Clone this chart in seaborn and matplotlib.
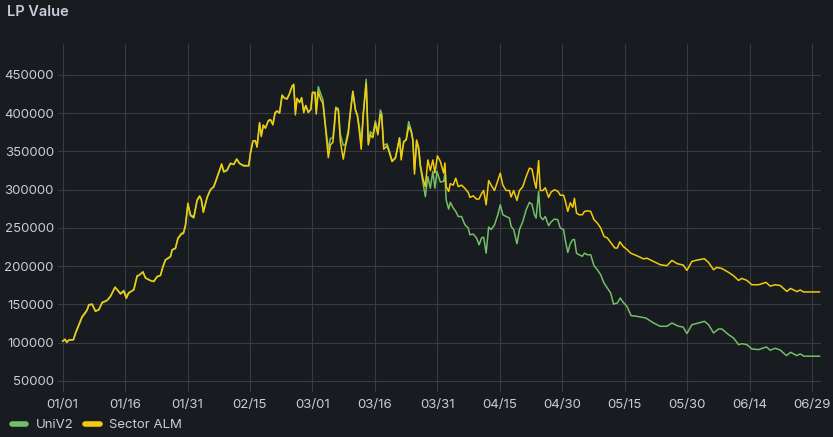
import numpy as np
import pandas as pd
import seaborn as sns
import matplotlib.pyplot as plt
import matplotlib.dates as mdates
from matplotlib.lines import Line2D

# days since 2024-01-01 and LP value
alm_days = [0, 0.6, 1.0, 1.5, 2.6, 3.1, 3.9, 4.7, 5.5, 5.9, 6.3, 7.1, 7.9, 8.7, 9.5, 10.7, 11.5, 12.6, 13.0, 13.9,
            14.7, 15.3, 15.9, 17.1, 17.9, 18.3, 19.3, 19.9, 21.0, 21.9, 22.7, 23.5, 24.1, 24.7, 25.9, 26.3, 27.1, 27.7,
            28.6, 29.0, 29.5, 30.1, 30.7, 31.5, 32.3, 32.9, 33.3, 33.8, 34.7, 35.5, 36.3, 37.1, 38.2, 38.7, 39.5, 40.3,
            41.1, 41.8, 42.5, 43.5, 44.7, 45.1, 45.7, 46.3, 46.7, 47.3, 47.7, 48.2, 48.7, 49.4, 49.9, 50.5, 51.0, 51.5,
            52.1, 52.7, 53.3, 53.9, 54.5, 55.1, 55.5, 55.9, 56.3, 56.9, 57.4, 57.9, 58.4, 59.0, 59.6, 60.0, 60.6, 60.9,
            61.4, 62.0, 62.5, 63.1, 63.8, 64.3, 64.9, 65.3, 65.6, 66.2, 66.7, 67.4, 67.9, 68.6, 69.1, 69.7, 70.3, 70.8,
            71.3, 71.7, 72.2, 72.9, 73.4, 73.9, 74.5, 75.1, 75.7, 76.3, 76.6, 77.1, 77.9, 78.5, 79.1, 79.9, 80.3, 80.9,
            81.3, 81.9, 82.5, 83.1, 83.7, 84.1, 84.5, 85.0, 85.5, 85.9, 86.5, 87.1, 87.7, 88.3, 88.9, 89.4, 90.0, 90.7,
            91.5, 91.8, 92.1, 92.7, 93.1, 93.8, 94.4, 95.0, 95.8, 96.6, 97.4, 97.8, 98.6, 99.4, 100.0, 100.6, 101.1,
            101.7, 102.3, 102.9, 103.7, 104.5, 105.1, 105.7, 106.5, 107.3, 107.7, 108.3, 109.1, 109.7, 110.5, 111.3,
            112.1, 112.7, 113.3, 113.7, 114.3, 114.7, 115.3, 115.9, 116.7, 117.3, 118.1, 118.9, 119.5, 120.3, 120.7,
            121.3, 121.9, 122.5, 122.9, 123.4, 124.0, 124.8, 125.3, 126.0, 126.8, 127.6, 128.4, 129.2, 130.0, 130.8,
            131.6, 132.6, 133.2, 133.8, 134.6, 135.6, 136.4, 137.9, 139.5, 140.3, 141.9, 143.5, 145.1, 146.3, 147.6,
            149.0, 149.9, 151.1, 152.3, 154.1, 155.1, 156.3, 157.1, 158.3, 159.9, 161.1, 162.3, 163.1, 164.3, 165.5,
            167.1, 168.9, 169.9, 171.1, 172.3, 173.9, 174.8, 176.3, 177.1, 177.9, 181.8]
alm_values = [102000, 104500, 100500, 103500, 104000, 112800, 123600, 134500, 140000, 143300, 149800, 150500, 141000,
              143000, 152800, 155500, 160600, 172800, 170000, 163700, 167000, 158000, 165000, 169300, 187600, 188000,
              192800, 184600, 181500, 180000, 186700, 188000, 199700, 208500, 212800, 221500, 223800, 236800, 243300,
              243000, 254200, 282500, 267300, 264200, 286800, 292000, 288000, 270300, 290300, 300000, 304200, 316500,
              333800, 323800, 326000, 334700, 333000, 340300, 334500, 331600, 331600, 347800, 363800, 364200, 355600,
              387800, 369500, 384700, 380300, 390400, 391700, 384700, 400800, 403000, 400000, 423900, 419600, 418500,
              426100, 435600, 437900, 397800, 419600, 414000, 420400, 400800, 410000, 400800, 405000, 427400, 427400,
              399000, 428000, 418000, 413000, 382500, 342000, 358600, 362000, 384700, 406500, 404000, 363000, 340000,
              356400, 373000, 400000, 428200, 404300, 396000, 374000, 353000, 398000, 439200, 358600, 371700, 368000,
              387000, 371700, 398000, 398000, 353000, 357300, 347800, 336800, 341000, 351000, 367400, 339000, 363000,
              365000, 382500, 376000, 365000, 320400, 365000, 355000, 332500, 315000, 304000, 339000, 325000, 339000,
              322000, 344300, 337000, 321700, 335000, 304200, 297700, 308000, 306000, 315100, 304000, 306000, 301700,
              296400, 290000, 292000, 287600, 288000, 295000, 299000, 280300, 312000, 306000, 299000, 312000, 321700,
              306000, 299000, 299000, 290500, 299000, 286000, 299000, 304000, 317200, 328200, 327000, 310700, 302000,
              338100, 299000, 299000, 302600, 290000, 297000, 300000, 298000, 292800, 292800, 285400, 271600, 283000,
              277000, 288700, 269500, 267300, 267300, 271600, 272500, 271600, 260800, 256500, 250000, 239000, 237000,
              231100, 223800, 223800, 232000, 225900, 221500, 217100, 213700, 209600, 210500, 206300, 202000, 200700,
              207600, 203300, 201600, 194600, 206300, 208000, 209800, 204900, 195400, 198500, 197000, 192000, 187600,
              181500, 184100, 181500, 175800, 175800, 178900, 174000, 175800, 174800, 167100, 171000, 166800, 169000,
              166400, 166400]

univ2_days = [0, 0.6, 1.0, 1.5, 2.6, 3.1, 3.9, 4.7, 5.5, 5.9, 6.3, 7.1, 7.9, 8.7, 9.5, 10.7, 11.5, 12.6, 13.0, 13.9,
              14.7, 15.3, 15.9, 17.1, 17.9, 18.3, 19.3, 19.9, 21.0, 21.9, 22.7, 23.5, 24.1, 24.7, 25.9, 26.3, 27.1, 27.7,
              28.6, 29.0, 29.5, 30.1, 30.7, 31.5, 32.3, 32.9, 33.3, 33.8, 34.7, 35.5, 36.3, 37.1, 38.2, 38.7, 39.5, 40.3,
              41.1, 41.8, 42.5, 43.5, 44.7, 45.1, 45.7, 46.3, 46.7, 47.3, 47.7, 48.2, 48.7, 49.4, 49.9, 50.5, 51.0, 51.5,
              52.1, 52.7, 53.3, 53.9, 54.5, 55.1, 55.5, 55.9, 56.3, 56.9, 57.4, 57.9, 58.4, 59.0, 59.6, 60.0, 60.6, 60.9,
              61.4, 62.0, 62.5, 63.1, 63.8, 64.3, 64.9, 65.3, 65.6, 66.2, 66.7, 67.4, 67.9, 68.6, 69.1, 69.7, 70.3, 70.8,
              71.3, 71.7, 72.2, 72.9, 73.4, 73.9, 74.5, 75.1, 75.7, 76.3, 76.6, 77.1, 77.9, 78.5, 79.1, 79.9, 80.3, 80.9,
              81.3, 81.9, 82.5, 83.1, 83.7, 84.1, 84.5, 85.0, 85.5, 85.9, 86.5, 87.1, 87.7, 88.3, 88.9, 89.4, 89.9, 90.7,
              91.5, 91.8, 92.1, 92.7, 93.1, 93.8, 94.4, 95.0, 95.8, 96.6, 97.4, 97.8, 98.6, 99.4, 100.0, 100.6, 101.1,
              101.7, 102.3, 102.9, 103.7, 104.5, 105.1, 105.7, 106.5, 107.3, 107.7, 108.3, 109.1, 109.7, 110.5, 111.3,
              112.1, 112.7, 113.3, 113.7, 114.3, 114.7, 115.3, 115.9, 116.7, 117.3, 118.1, 118.9, 119.5, 120.3, 120.7,
              121.3, 121.9, 122.5, 122.9, 123.4, 124.0, 124.8, 125.3, 126.0, 126.8, 127.6, 128.4, 129.2, 130.0, 130.8,
              131.6, 132.3, 133.2, 133.9, 134.6, 135.5, 136.5, 137.9, 140.0, 141.9, 143.5, 145.1, 146.3, 147.9, 149.0,
              149.9, 151.1, 152.7, 154.1, 155.1, 156.3, 157.5, 158.3, 159.9, 161.1, 162.3, 163.1, 164.3, 165.5, 167.1,
              169.0, 169.9, 171.1, 172.3, 173.8, 174.8, 176.3, 177.1, 178.0, 181.8]
univ2_values = [102000, 104500, 100500, 103500, 104000, 112000, 122500, 133000, 139000, 142500, 148800, 150000, 141500,
                143500, 152000, 155000, 160600, 172000, 170000, 164500, 168500, 161000, 165500, 169300, 187000, 188000,
                192000, 185000, 181500, 180000, 186000, 188000, 199000, 208000, 212000, 221000, 223000, 236000, 242000,
                242500, 252000, 280000, 266000, 263000, 285500, 291000, 287000, 272000, 289500, 300000, 303500, 315500,
                332500, 323000, 325000, 334000, 333000, 339500, 334000, 331000, 331000, 347000, 363000, 364000, 356500,
                386500, 371000, 384000, 381000, 389500, 391700, 386000, 399500, 402500, 401000, 422500, 420000, 419000,
                425500, 434500, 436500, 403000, 419000, 414500, 419500, 403000, 410000, 402000, 405000, 426000, 427000,
                405000, 434800, 425000, 418000, 385000, 353000, 367000, 368000, 390000, 408000, 406000, 372000, 358000,
                359000, 378000, 403000, 429000, 405000, 398000, 380000, 362000, 400000, 444400, 362000, 376000, 372000,
                390000, 375000, 404300, 400000, 358000, 360000, 350000, 338000, 342000, 352000, 368000, 343000, 362000,
                366000, 389000, 378000, 366000, 326000, 363000, 352000, 330000, 310000, 291000, 317000, 302000, 324000,
                302000, 324000, 310000, 311000, 321000, 286800, 274700, 283500, 276000, 271700, 265000, 265000, 254200,
                249900, 241100, 242000, 236800, 228000, 237000, 238000, 217100, 251200, 248000, 254000, 267300, 280300,
                267300, 265000, 263000, 252000, 248000, 229400, 248000, 258400, 273800, 283500, 281000, 267300, 263000,
                297700, 265000, 260800, 265000, 253000, 258000, 261700, 260800, 249900, 247800, 234000, 218000, 229400,
                234700, 235000, 217100, 215000, 213000, 217100, 215000, 215000, 200700, 195400, 188900, 178000, 171500,
                165000, 150500, 152000, 158500, 152800, 147500, 135400, 134500, 132400, 125800, 121500, 121500, 125800,
                121500, 120500, 112000, 123600, 125800, 128000, 123600, 112800, 118000, 118000, 110600, 106200, 97500,
                98700, 97500, 91900, 91000, 94500, 90200, 92800, 90500, 83200, 87500, 83200, 85400, 82400, 82400]

series_names = ["UniV2", "Sector ALM"]
series_colors = ["#73bf69", "#f2cc0c"]

start = pd.Timestamp("2024-01-01")
df = pd.concat([
    pd.DataFrame({"time": start + pd.to_timedelta(univ2_days, unit="D"), "value": univ2_values, "series": "UniV2"}),
    pd.DataFrame({"time": start + pd.to_timedelta(alm_days, unit="D"), "value": alm_values, "series": "Sector ALM"}),
], ignore_index=True)

bg = "#181b1f"
txt = "#ccccdc"
grid = "#383b40"

sns.set_theme(style="dark")
plt.rcParams["font.family"] = ["Inter", "DejaVu Sans"]

fig = plt.figure(figsize=(8.33, 4.37), dpi=100, facecolor=bg)
ax = fig.add_axes([58 / 833, 45 / 437, 763 / 833, 348 / 437])
ax.set_facecolor(bg)

sns.lineplot(data=df, x="time", y="value", hue="series", hue_order=series_names,
             palette=dict(zip(series_names, series_colors)), estimator=None, sort=False,
             linewidth=1.1, legend=False, ax=ax)

ax.set_xlim(start - pd.Timedelta(days=1.1), start + pd.Timedelta(days=182.1))
ax.set_ylim(35600, 490500)
ax.set_xticks([start + pd.Timedelta(days=15 * k) for k in range(13)])
ax.xaxis.set_major_formatter(mdates.DateFormatter("%m/%d"))
ax.set_yticks(np.arange(50000, 450001, 50000))
ax.yaxis.set_major_formatter(plt.FuncFormatter(lambda v, p: f"{int(v)}"))
ax.grid(True, color=grid, linewidth=0.8)
ax.tick_params(axis="both", length=0, labelcolor=txt, labelsize=9.5)
ax.tick_params(axis="x", pad=5)
ax.tick_params(axis="y", pad=3)
for s in ax.spines.values():
    s.set_visible(False)
ax.set_xlabel("")
ax.set_ylabel("")

fig.text(7 / 833, 1 - 12 / 437, "LP Value", color=txt, fontsize=10.5, fontweight="semibold", va="center", ha="left")

handles = [Line2D([], [], color=c, lw=4, solid_capstyle="round") for c in series_colors]
fig.legend(handles, series_names, loc="center left", bbox_to_anchor=(0.0, 12 / 437), ncol=2, frameon=False,
           fontsize=9.5, labelcolor=txt, handlelength=1.1, handletextpad=0.7, columnspacing=0.9)

fig.savefig("out.png", dpi=100, facecolor=bg)
